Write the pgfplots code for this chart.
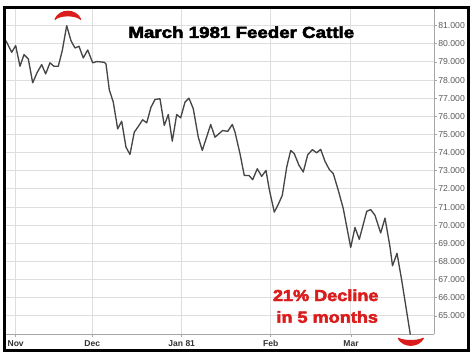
\documentclass[border=0pt]{standalone}
\usepackage{pgfplots}
\pgfplotsset{compat=1.18}
\usepackage{graphicx}
\usepackage{fontspec}
\setmainfont{Liberation Sans}
\newfontfamily\heavy[FakeBold=3]{Liberation Sans Bold}
\definecolor{linegray}{RGB}{70,70,70}
\definecolor{gridgray}{RGB}{222,222,222}
\definecolor{labgray}{RGB}{90,90,90}
\definecolor{xlab}{RGB}{50,50,50}
\definecolor{annred}{RGB}{218,28,28}
\begin{document}
\begin{tikzpicture}
\useasboundingbox (0,0) rectangle (473*0.75pt,-357*0.75pt);
\begin{axis}[
  at={(5*0.75pt,-7.5*0.75pt)}, anchor=north west,
  scale only axis, width=429*0.75pt, height=326.5*0.75pt,
  xmin=-2.65, xmax=103.8, ymin=64, ymax=82,
  axis x line*=bottom, axis y line*=right,
  axis line style={-, draw=gray!70, line width=0.6pt},
  xtick={0,19,41.2,63.3,83.2},
  xticklabels={Nov,Dec,Jan 81,Feb,Mar},
  ytick={65,66,...,81},
  grid=major,
  major grid style={draw=gridgray, line width=0.75pt},
  tick align=outside,
  major tick length=2.2pt,
  tick style={draw=gray!70, line width=0.5pt},
  x tick label style={font=\bfseries\fontsize{6.4}{7}\selectfont, text=xlab, yshift=1pt},
  y tick label style={font=\fontsize{6.5}{7}\selectfont, text=labgray, xshift=-2.5pt},
  /pgf/number format/assume math mode=true,
  yticklabel={\pgfmathprintnumber[fixed, fixed zerofill, precision=3]{\tick}},
  clip=false,
]
\addplot[linegray, line width=1pt, line join=round] table {
x y
-2.41 80.17
-0.99 79.53
0 79.90
1.07 78.76
2.06 79.40
3.13 79.17
4.22 77.85
5.36 78.43
6.45 78.85
7.44 78.34
8.51 78.95
9.50 78.76
10.57 78.76
11.56 79.62
12.66 81.00
13.72 80.17
14.71 79.77
15.71 79.86
16.77 79.22
17.87 79.66
19.11 78.95
20.10 79.02
21.99 78.98
22.41 78.89
23.23 77.46
24.22 76.78
25.31 75.31
26.30 75.73
27.37 74.30
28.36 73.90
29.43 75.13
30.42 75.44
31.51 75.81
32.51 75.64
33.57 76.50
34.57 76.93
35.81 76.97
36.87 75.50
37.87 76.10
38.86 74.63
39.95 76.10
40.94 75.92
42.01 76.78
43.00 77.00
44.07 76.42
45.31 74.85
46.30 74.12
48.39 75.55
49.45 74.85
51.36 75.22
52.61 75.17
53.75 75.55
54.42 75.13
55.66 73.94
56.72 72.74
57.89 72.74
58.81 72.51
59.95 73.11
61.04 72.69
62.11 73.02
62.93 71.96
64.17 70.72
65.16 71.15
66.15 71.64
67.25 73.20
68.24 74.12
69.13 73.94
70.30 73.30
71.36 72.93
72.46 73.88
73.60 74.16
74.69 73.99
75.68 74.18
76.75 73.52
77.82 73.07
78.81 72.84
80.05 71.92
81.29 70.91
83.13 68.77
84.19 69.87
85.26 69.22
87.10 70.76
88.09 70.86
89.16 70.54
90.57 69.57
91.64 70.39
92.88 68.80
93.50 67.76
94.62 68.45
95.78 66.97
97.92 63.97
};
\end{axis}
\begin{scope}[x=0.75pt, y=-0.75pt]
  \draw[black, line width=2.25pt] (4.5,7.5) rectangle (468.5,350.8);
  \node[anchor=base, inner sep=0pt] at (241.3,37.9)
    {\heavy\fontsize{11.9}{12}\selectfont\scalebox{1.18}[1]{March 1981 Feeder Cattle}};
  \node[anchor=base, inner sep=0pt, text=annred] at (325.7,301)
    {\heavy\fontsize{12}{13}\selectfont\scalebox{1.13}[1]{21\% Decline}};
  \node[anchor=base, inner sep=0pt, text=annred] at (327.2,322.7)
    {\heavy\fontsize{12}{13}\selectfont\scalebox{1.13}[1]{in 5 months}};
  \filldraw[annred, line width=0.9pt, line join=round] (55,19.3) .. controls (60,8.6) and (75.7,8.6) .. (80.7,19.3)
     .. controls (75.7,14.6) and (60,14.6) .. (55,19.3) -- cycle;
  \filldraw[annred, line width=0.9pt, line join=round] (398.3,338.3) .. controls (403.3,347.6) and (418.3,347.6) .. (423.3,338.3)
     .. controls (418.3,341.3) and (403.3,341.3) .. (398.3,338.3) -- cycle;
\end{scope}
\end{tikzpicture}
\end{document}
